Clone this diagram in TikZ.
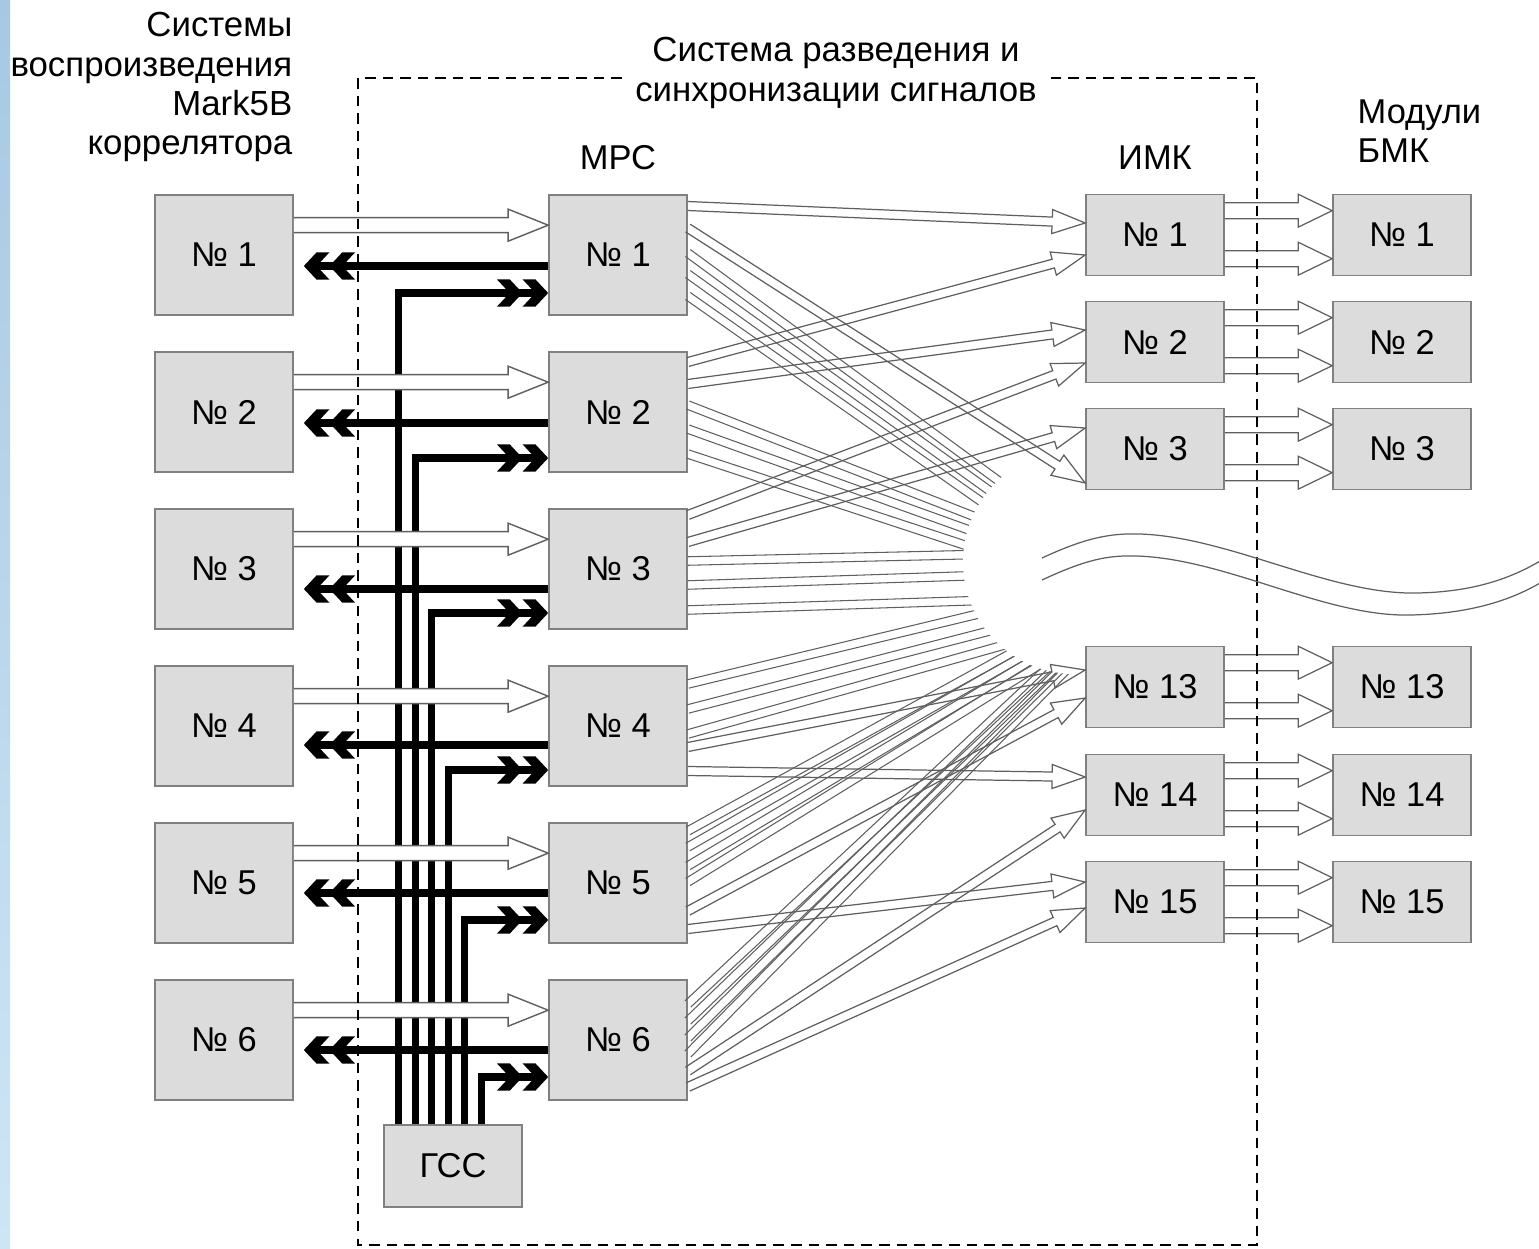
\documentclass[tikz,border=0pt]{standalone}
\usepackage{fontspec}
\setmainfont{Liberation Sans}
\usetikzlibrary{calc,arrows.meta}
\pgfdeclarearrow{
  name = Chev,
  parameters = {\the\pgfarrowlength,\the\pgfarrowwidth},
  setup code = {
    \pgfarrowssettipend{0pt}
    \pgfarrowssetbackend{-\pgfarrowlength}
    \pgfarrowssetlineend{-.5\pgfarrowlength}
    \pgfarrowssavethe\pgfarrowlength
    \pgfarrowssavethe\pgfarrowwidth
  },
  drawing code = {
    \pgfpathmoveto{\pgfqpoint{0pt}{0pt}}
    \pgfpathlineto{\pgfpoint{-.5\pgfarrowlength}{.5\pgfarrowwidth}}
    \pgfpathlineto{\pgfpoint{-\pgfarrowlength}{.5\pgfarrowwidth}}
    \pgfpathlineto{\pgfpoint{-.5\pgfarrowlength}{0pt}}
    \pgfpathlineto{\pgfpoint{-\pgfarrowlength}{-.5\pgfarrowwidth}}
    \pgfpathlineto{\pgfpoint{-.5\pgfarrowlength}{-.5\pgfarrowwidth}}
    \pgfpathclose
    \pgfusepathqfill
  },
  defaults = {length=7.3pt, width=7.8pt}
}
\definecolor{boxfill}{RGB}{220,220,220}
\definecolor{boxline}{RGB}{128,128,128}
\definecolor{lineg}{RGB}{95,95,95}
\definecolor{stripA}{RGB}{168,200,226}
\definecolor{stripB}{RGB}{206,229,246}
\newcommand\harr[6]{%
  \coordinate (hb) at ($(#3)!#6!(#2)$);
  \draw[#1] ($(#2)!#4!90:(#3)$) -- ($(hb)!#4!270:(#2)$) -- ($(hb)!#5!270:(#2)$) -- (#3)
     -- ($(hb)!#5!90:(#2)$) -- ($(hb)!#4!90:(#2)$) -- ($(#2)!#4!270:(#3)$);}
\newcommand\fan[3]{%
  \coordinate (fa) at (#1.east |- 0,#2);
  \coordinate (ft) at (1086,#3);
  \draw[fanst] ($(fa)!0.0425cm!90:(ft)$) -- ($(ft)!0.0425cm!270:(fa)$);
  \draw[fanst] ($(fa)!0.0425cm!270:(ft)$) -- ($(ft)!0.0425cm!90:(fa)$);}
\newcommand\link[4]{%
  \coordinate (la) at (#1.east |- 0,#2);
  \coordinate (lb) at (#3.west |- 0,#4);
  \harr{thinst}{la}{lb}{0.045cm}{0.12cm}{0.33cm}}
\begin{document}
\begin{tikzpicture}[x=0.01cm,y=-0.01cm,
  every node/.style={font=\fontsize{9.8pt}{11.1pt}\selectfont},
  box/.style={draw=boxline, fill=boxfill, line width=0.45pt, minimum width=1.38cm, inner sep=0pt},
  tall/.style={box, minimum height=1.2cm},
  short/.style={box, minimum height=0.81cm},
  thinst/.style={draw=lineg, line width=0.35pt},
  fanst/.style={draw=lineg, line width=0.3pt},
  harrowst/.style={draw=lineg, line width=0.4pt, fill=white},
  blk/.style={line width=2pt, line join=miter, -{Chev[]Chev[]}},
  frame/.style={dash pattern=on 3pt off 2pt, line width=0.55pt}]
\useasboundingbox (0,0) rectangle (1539,1248);
\shade[top color=stripA, bottom color=stripB] (0,0) rectangle (10,1248);
% left and MPC boxes
\foreach \n/\y in {1/255,2/412,3/569,4/726,5/883,6/1040}{
  \node[tall] (L\n) at (224,\y) {№ \n};
  \node[tall] (M\n) at (618,\y) {№ \n};
}
\node[box, minimum height=0.82cm] (G) at (453,1166) {ГСС};
% fan lines into the gap
\fan{M1}{253}{545} \fan{M1}{274}{560} \fan{M1}{296}{575}
\fan{M2}{405}{560} \fan{M2}{429}{572} \fan{M2}{454}{585}
\fan{M3}{561}{552} \fan{M3}{585}{572} \fan{M3}{610}{597}
\fan{M4}{684}{588} \fan{M4}{709}{606} \fan{M4}{734}{622}
\fan{M5}{831}{612} \fan{M5}{847}{620} \fan{M5}{866}{628} \fan{M5}{882}{636}
\fan{M6}{1004}{632} \fan{M6}{1021}{638} \fan{M6}{1038}{644} \fan{M6}{1054}{650}
\fill[white] (1075,562) circle[radius=1.12cm];
% IMK and BMK boxes
\foreach \n/\y in {1/235,2/342,3/449,13/687,14/795,15/902}{
  \node[short] (I\n) at (1155,\y) {№ \n};
  \node[short] (B\n) at (1402,\y) {№ \n};
}
% visible MPC -> IMK arrows
\link{M1}{206}{I1}{223}
\link{M1}{228}{I3}{483}
\link{M2}{362}{I1}{255}
\link{M2}{384}{I2}{330}
\link{M3}{515}{I2}{363}
\link{M3}{542}{I3}{428}
\link{M4}{747}{I13}{670}
\link{M4}{771}{I14}{777}
\link{M5}{911}{I13}{698}
\link{M5}{929}{I15}{882}
\link{M6}{1071}{I14}{810}
\link{M6}{1087}{I15}{908}
% IMK -> BMK
\foreach \n in {1,2,3,13,14,15}{
  \foreach \o in {17,65}{
    \coordinate (ia) at ($(I\n.north east)+(0,\o)$);
    \coordinate (ib) at ($(B\n.north west)+(0,\o)$);
    \harr{thinst}{ia}{ib}{0.08cm}{0.165cm}{0.34cm}
  }
}
% black sync lines
\foreach \n/\dx/\dy in {1/15/38,2/32/46,3/48/44,4/65/44,5/81/37,6/98/37}{
  \draw[blk] ($(G.north west)+(\dx,0)$) |- ($(M\n.west)+(0,\dy)$);
}
\foreach \n/\dy in {1/11,2/11,3/20,4/19,5/10,6/10}{
  \draw[blk] ($(M\n.west)+(0,\dy)$) -- ($(L\n.east)+(10,\dy)$);
}
% Mark5B -> MPC hollow arrows
\foreach \n in {1,...,6}{
  \coordinate (ha) at ($(L\n.north east)+(0,31)$);
  \coordinate (hz) at ($(M\n.north west)+(0,31)$);
  \harr{harrowst}{ha}{hz}{0.075cm}{0.16cm}{0.4cm}
}
% dashed frame and title
\draw[frame] (358,78) rectangle (1257,1245);
\node[fill=white, align=center, inner sep=2pt, font=\fontsize{9.9pt}{11.4pt}\selectfont] (title) at (836,73) {Система разведения и\\синхронизации сигналов};
\node[align=right, anchor=east, inner sep=0pt, font=\fontsize{9.9pt}{11.1pt}\selectfont] (lab1) at (293,87) {Системы\\воспроизведения\\Mark5B\\коррелятора};
\node[align=left, anchor=west, inner sep=0pt] (lab3) at (1357,131) {Модули\\БМК};
\node (hm) at (618,158) {МРС};
\node (hi) at (1155,158) {ИМК};
% wavy break lines
\draw[thinst] (1042,558) .. controls (1085,538) and (1110,533) .. (1140,534)
  .. controls (1230,537) and (1330,595) .. (1417,593) .. controls (1470,592) and (1510,580) .. (1545,558);
\draw[thinst] (1042,580) .. controls (1085,560) and (1107,555) .. (1137,556)
  .. controls (1227,559) and (1325,617) .. (1410,615) .. controls (1465,614) and (1510,602) .. (1545,580);
\end{tikzpicture}
\end{document}
